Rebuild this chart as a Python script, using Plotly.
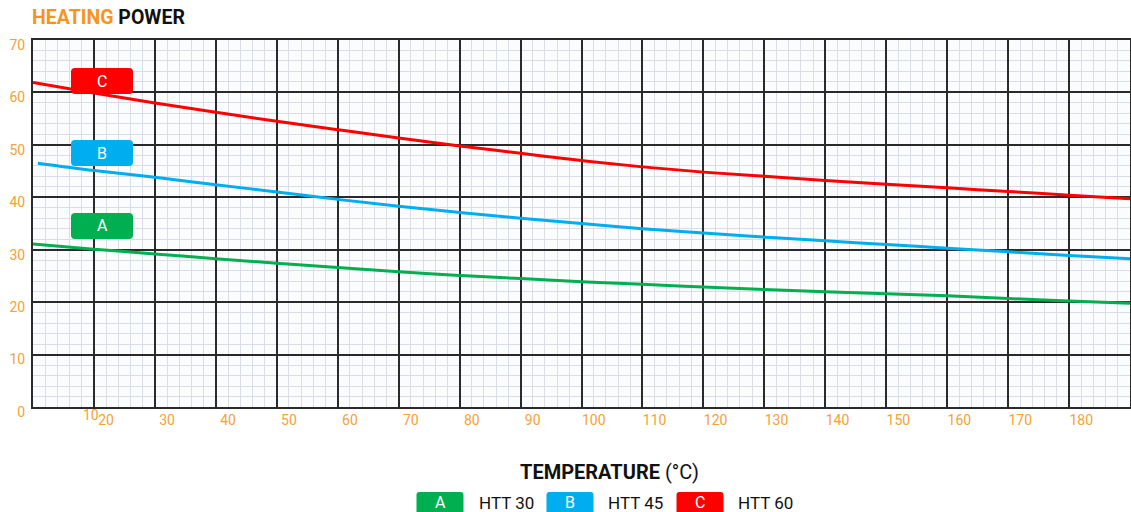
import plotly.graph_objects as go

# ---- data ----
temps = [0, 10, 20, 30, 40, 50, 60, 70, 80, 90, 100, 110, 120, 130, 140, 150, 160, 170, 180]
htt60 = [61.9, 59.9, 58.0, 56.2, 54.5, 52.9, 51.3, 49.8, 48.4, 47.0, 45.8, 44.8, 44.0, 43.2, 42.5, 41.8, 41.1, 40.4, 39.7]
temps_b = [0.8, 10, 20, 30, 40, 50, 60, 70, 80, 90, 100, 110, 120, 130, 140, 150, 160, 170, 180]
htt45 = [46.5, 45.1, 43.8, 42.4, 41.0, 39.6, 38.3, 37.1, 36.0, 35.0, 34.0, 33.2, 32.4, 31.7, 31.0, 30.3, 29.6, 28.9, 28.3]
htt30 = [31.1, 30.1, 29.2, 28.3, 27.4, 26.6, 25.8, 25.1, 24.5, 23.9, 23.4, 22.9, 22.4, 22.0, 21.6, 21.2, 20.7, 20.2, 19.8]

series_names = ["HTT 30", "HTT 45", "HTT 60"]
series_letters = ["A", "B", "C"]
y_ticks = [0, 10, 20, 30, 40, 50, 60, 70]
x_tick_labels = ["20", "30", "40", "50", "60", "70", "80", "90", "100", "110", "120",
                 "130", "140", "150", "160", "170", "180"]

GREEN = "#00b050"
BLUE = "#00aeef"
RED = "#ff0000"
ORANGE = "#f7a035"
colors = [GREEN, BLUE, RED]

W, H = 1131, 512
ML, MT = 33, 40
MR = W - 1130
MB = H - 407
PW, PH = W - ML - MR, H - MT - MB


def px2paper(px, py):
    """screen pixel -> paper coords"""
    return (px - ML) / PW, (H - MB - py) / PH


fig = go.Figure()
fig.add_trace(go.Scatter(x=temps, y=htt30, mode="lines", line=dict(color=GREEN, width=3, shape="spline"),
                         name=series_names[0], showlegend=False))
fig.add_trace(go.Scatter(x=temps_b, y=htt45, mode="lines", line=dict(color=BLUE, width=3, shape="spline"),
                         name=series_names[1], showlegend=False))
fig.add_trace(go.Scatter(x=temps, y=htt60, mode="lines", line=dict(color=RED, width=3, shape="spline"),
                         name=series_names[2], showlegend=False))

# x tick labels are shifted from the grid (as in the source figure)
x_tick_vals = [int(t) - 8 for t in x_tick_labels]

fig.update_layout(
    width=W, height=H,
    margin=dict(l=ML, r=MR, t=MT, b=MB),
    paper_bgcolor="white", plot_bgcolor="#fbfcfe",
    font=dict(family="Roboto", color=ORANGE, size=14),
    xaxis=dict(range=[0, 180], showgrid=True, gridcolor="#2a2a2a", gridwidth=2,
               tickmode="linear", tick0=0, dtick=10, showticklabels=False, ticks="", zeroline=False,
               showline=True, linecolor="#2a2a2a", linewidth=2, mirror=True, automargin=False,
               minor=dict(tickmode="linear", tick0=0, dtick=2, showgrid=True, gridcolor="#dadde6", gridwidth=1)),
    xaxis2=dict(range=[0, 180], overlaying="x", side="bottom", showgrid=False, zeroline=False,
                tickmode="array", tickvals=x_tick_vals, ticktext=x_tick_labels, ticks="",
                ticklabelstandoff=3, automargin=False,
                tickfont=dict(color=ORANGE, size=14)),
    yaxis=dict(range=[0, 70], tickmode="array", tickvals=y_ticks, showgrid=True, gridcolor="#2a2a2a",
               gridwidth=2, zeroline=False, showline=True, linecolor="#2a2a2a", linewidth=2, mirror=True,
               ticks="", ticklabelstandoff=3, ticklabelshift=5, automargin=False,
               tickfont=dict(color=ORANGE, size=14),
               minor=dict(tickmode="linear", tick0=0, dtick=2, showgrid=True, gridcolor="#dadde6", gridwidth=1)),
)

# dummy trace to activate xaxis2 for shifted labels
fig.add_trace(go.Scatter(x=[0], y=[0], xaxis="x2", mode="markers", marker=dict(opacity=0),
                         showlegend=False, hoverinfo="skip"))

# lone "10" label
fig.add_annotation(x=9.5, y=0, xref="x", yref="paper", text="10", showarrow=False,
                   xanchor="center", yanchor="middle", yshift=-8, font=dict(color=ORANGE, size=14))


def rounded_path(cx, cy, w, h, rad):
    x0, x1 = cx - w / 2, cx + w / 2
    y0, y1 = cy - h / 2, cy + h / 2

    def P(x, y):
        a, b = px2paper(x, y)
        return f"{a:.5f},{b:.5f}"
    return (f"M {P(x0 + rad, y0)} L {P(x1 - rad, y0)} Q {P(x1, y0)} {P(x1, y0 + rad)} "
            f"L {P(x1, y1 - rad)} Q {P(x1, y1)} {P(x1 - rad, y1)} L {P(x0 + rad, y1)} "
            f"Q {P(x0, y1)} {P(x0, y1 - rad)} L {P(x0, y0 + rad)} Q {P(x0, y0)} {P(x0 + rad, y0)} Z")


# curve letter tags in plot
box_centers = [(102, 226), (102, 153), (102, 81)]
for (cx, cy), letter, col in zip(box_centers, series_letters, colors):
    fig.add_shape(type="path", xref="paper", yref="paper", path=rounded_path(cx, cy, 62, 26, 4),
                  fillcolor=col, line=dict(width=0), layer="above")
    ax, ay = px2paper(cx, cy)
    fig.add_annotation(x=ax, y=ay, xref="paper", yref="paper", text=letter, showarrow=False,
                       xanchor="center", yanchor="middle",
                       font=dict(color="white", size=16, family="Roboto"))

# legend at bottom
leg_boxes = [(440, 477), (570, 606), (700, 736)]
for (bx, tx), letter, col, name in zip(leg_boxes, series_letters, colors, series_names):
    fig.add_shape(type="path", xref="paper", yref="paper", path=rounded_path(bx, 505, 47, 26, 3),
                  fillcolor=col, line=dict(width=0))
    ax, ay = px2paper(bx, 503)
    fig.add_annotation(x=ax, y=ay, xref="paper", yref="paper", text=letter, showarrow=False,
                       xanchor="center", yanchor="middle",
                       font=dict(color="white", size=16, family="Roboto"))
    tx_, ty_ = px2paper(tx, 503)
    fig.add_annotation(x=tx_, y=ty_, xref="paper", yref="paper", text=name, showarrow=False,
                       xanchor="left", yanchor="middle",
                       font=dict(color="#111111", size=17, family="Roboto"))

# axis title
axp, ayp = px2paper(609, 472)
fig.add_annotation(x=axp, y=ayp, xref="paper", yref="paper", showarrow=False,
                   xanchor="center", yanchor="middle",
                   text="<b>TEMPERATURE</b> (°C)", font=dict(color="#111111", size=20, family="Roboto"))

# chart title
tpx, tpy = px2paper(30, 17)
fig.add_annotation(x=tpx, y=tpy, xref="paper", yref="paper", showarrow=False,
                   xanchor="left", yanchor="middle",
                   text="<b><span style='color:#f7941d'>HEATING</span> POWER</b>",
                   font=dict(color="#111111", size=19.5, family="Roboto"))

fig.write_html("out.html", config={"displayModeBar": False},
               post_script="document.body.style.margin='0';document.body.style.overflow='hidden';")
